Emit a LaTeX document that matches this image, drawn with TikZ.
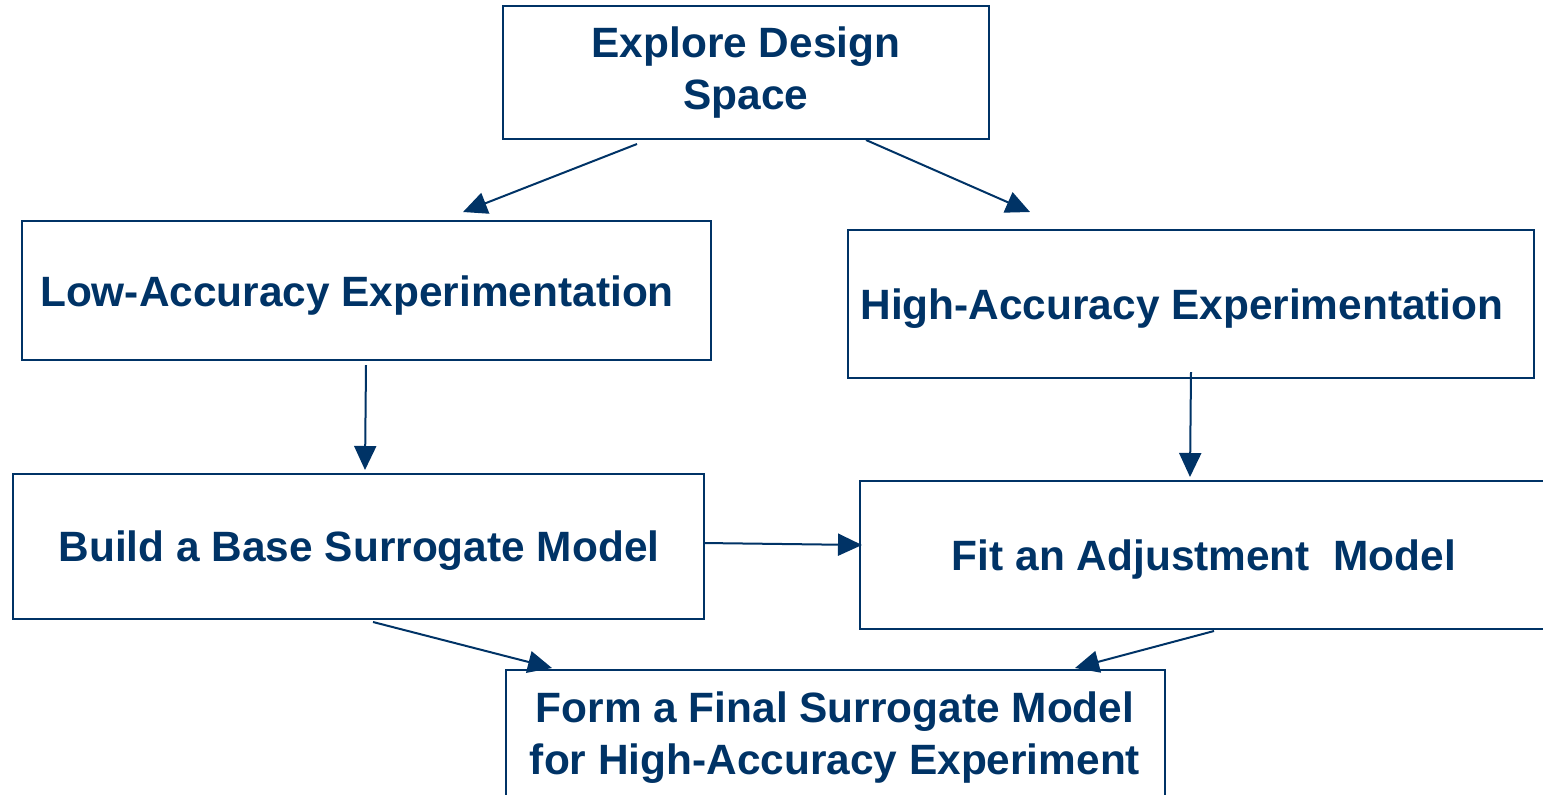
\documentclass[tikz,border=0pt]{standalone}
\usepackage{fontspec}
\setmainfont{Liberation Sans}
\usetikzlibrary{arrows.meta}
\definecolor{navy}{RGB}{0,51,102}
\begin{document}
\begin{tikzpicture}[x=0.5pt,y=-0.5pt,
  box/.style={draw=navy,line width=1pt,inner sep=0pt},
  lbl/.style={text=navy,inner sep=0pt,align=center,font=\fontsize{21.2}{26}\selectfont\bfseries},
  conn/.style={draw=navy,line width=1pt,-{Triangle[length=12pt,width=11pt]}}]
\useasboundingbox (0,0) rectangle (1543,794);
\clip (0,0) rectangle (1543,794);
% boxes
\node[box,minimum width=243pt,minimum height=66.5pt] (explore) at (746,72.5) {};
\node[box,minimum width=344.5pt,minimum height=69.5pt] (low) at (366.5,290.5) {};
\node[box,minimum width=343pt,minimum height=74pt] (high) at (1191,304) {};
\node[box,minimum width=345.5pt,minimum height=72.5pt] (build) at (358.5,546.5) {};
\node[box,minimum width=350pt,minimum height=74pt] (fit) at (1210,555) {};
\node[box,minimum width=329.5pt,minimum height=70pt] (final) at (835.5,740) {};
% labels
\node[lbl] (exploreT) at (746,73) {Explore Design\\Space};
\node[lbl] (lowT) at (357,296) {Low-Accuracy Experimentation};
\node[lbl] (highT) at (1182,309) {High-Accuracy Experimentation};
\node[lbl] (buildT) at (359,551) {Build a Base Surrogate Model};
\node[lbl] (fitT) at (1204,560) {Fit an Adjustment\ \ Model};
\node[lbl] (finalT) at (835,738) {Form a Final Surrogate Model\\for High-Accuracy Experiment};
% connector end points
\coordinate (a1) at (637,144); \coordinate (b1) at (463,212);
\coordinate (a2) at (866,140); \coordinate (b2) at (1030,212);
\coordinate (a3) at (366,365); \coordinate (b3) at (365,470);
\coordinate (a4) at (1191,372); \coordinate (b4) at (1190,477);
\coordinate (a5) at (704,543); \coordinate (b5) at (862,545);
\coordinate (a6) at (373,622); \coordinate (b6) at (552,668);
\coordinate (a7) at (1214,631); \coordinate (b7) at (1075,668);
\draw[conn] (a1) -- (b1);
\draw[conn] (a2) -- (b2);
\draw[conn] (a3) -- (b3);
\draw[conn] (a4) -- (b4);
\draw[conn] (a5) -- (b5);
\draw[conn] (a6) -- (b6);
\draw[conn] (a7) -- (b7);
\end{tikzpicture}
\end{document}
